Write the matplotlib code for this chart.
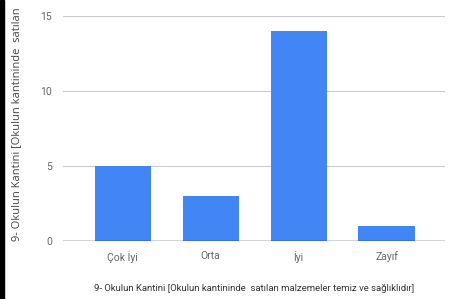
import matplotlib
matplotlib.use("Agg")
import matplotlib.pyplot as plt
from matplotlib.patches import Rectangle

categories = ["Çok İyi", "Orta", "İyi", "Zayıf"]
counts = [5, 3, 14, 1]
yticks = [0, 5, 10, 15]
xlabel = "9- Okulun Kantini [Okulun kantininde  satılan malzemeler temiz ve sağlıklıdır]"
ylabel = "9- Okulun Kantini [Okulun kantininde  satılan"

plt.rcParams["font.family"] = ["Roboto", "DejaVu Sans"]

fig = plt.figure(figsize=(4.5, 2.99), dpi=100)
fig.patches.append(Rectangle((0, 0), 4 / 450, 1, transform=fig.transFigure,
                             color="black", zorder=10))
ax = fig.add_axes([0.14, 0.194, 0.849, 0.7525])

x = range(len(categories))
ax.bar(x, counts, width=0.64, color="#4285F4", zorder=3)

ax.set_xlim(-0.68, 3.665)
ax.set_ylim(0, 15)
ax.set_yticks(yticks)
ax.set_xticks(list(x))
ax.set_xticklabels(categories)
ax.yaxis.grid(True, color="#cccccc", linewidth=0.8, zorder=0)
ax.axhline(0, color="#333333", linewidth=1.0, zorder=4)
for s in ax.spines.values():
    s.set_visible(False)
ax.tick_params(axis="both", length=0, labelsize=7.5, labelcolor="#666666")
ax.tick_params(axis="x", pad=7)
ax.tick_params(axis="y", pad=8)

fig.text(0.564, 0.035, xlabel, ha="center", va="center", fontsize=6.8, color="#333333")
fig.text(0.036, 0.975, ylabel, ha="center", va="top", rotation=90,
         fontsize=8, color="#444444", family=["Open Sans", "DejaVu Sans"])

fig.savefig("out.png", dpi=100)
